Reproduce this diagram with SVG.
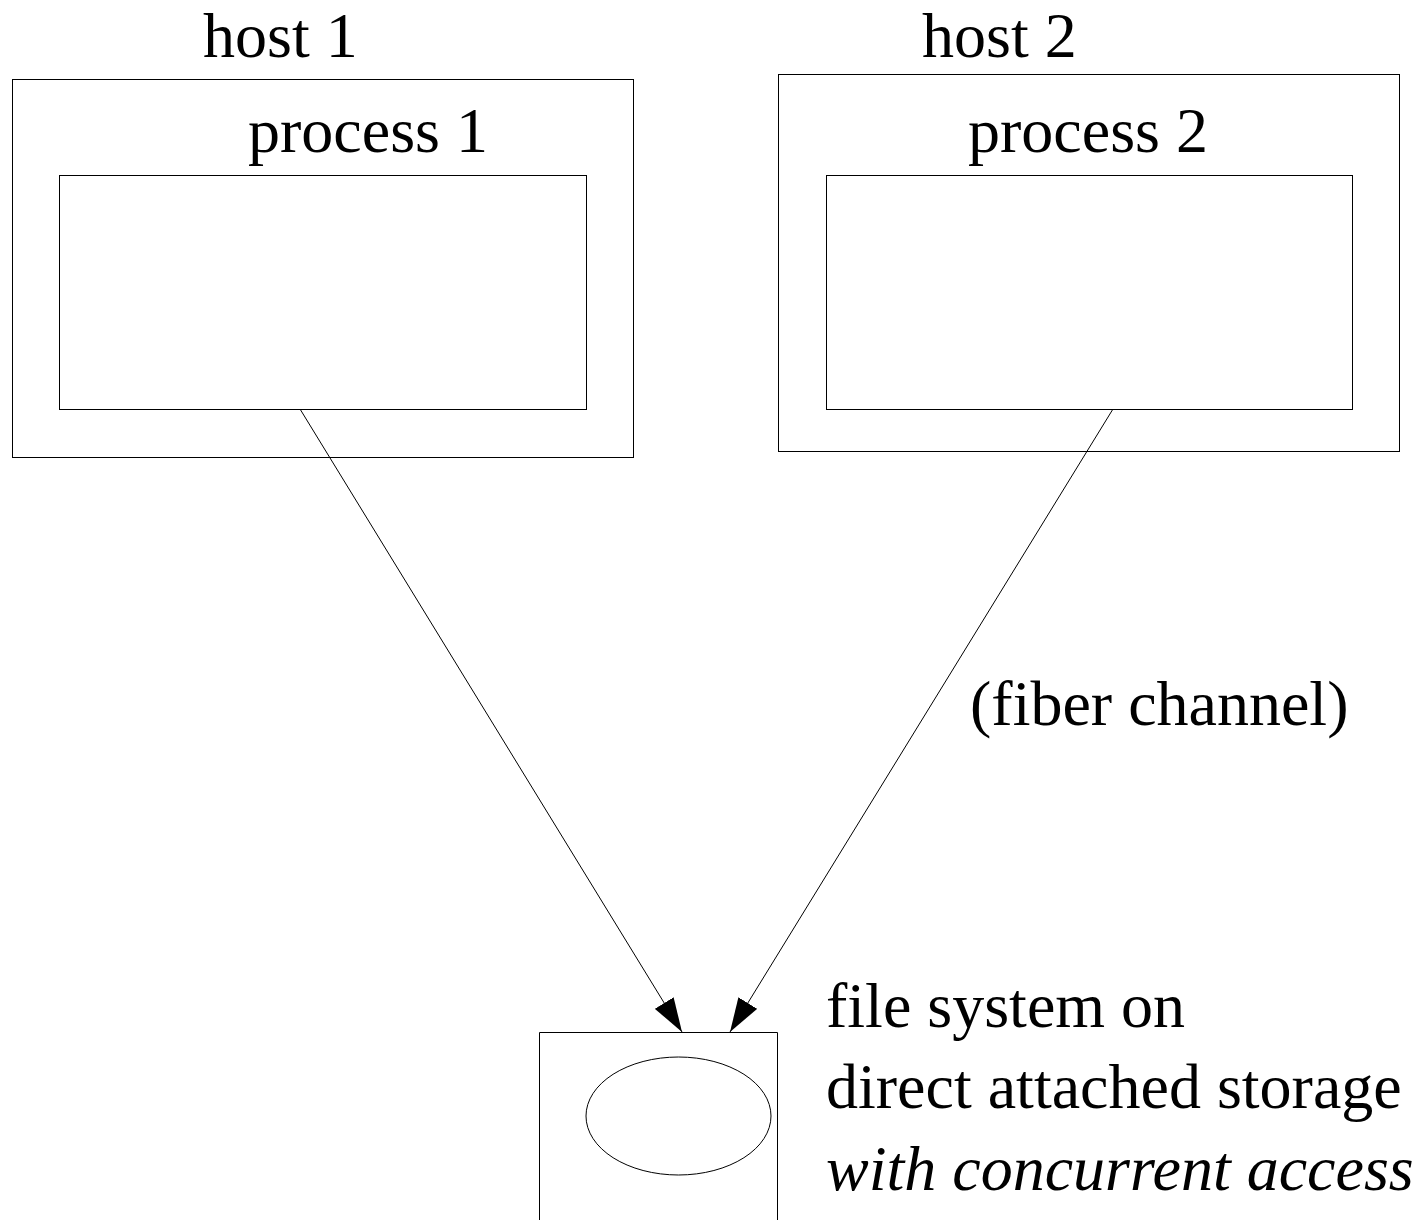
<svg xmlns="http://www.w3.org/2000/svg" width="1420" height="1220" viewBox="0 0 1420 1220">
  <style>
    .box { fill: none; stroke: #000; stroke-width: 1; }
    .lbl { font-family: "Liberation Serif", "Times New Roman", serif; font-size: 64px; fill: #000; }
    .it { font-style: italic; }
    .wire { fill: none; stroke: #000; stroke-width: 1; }
  </style>
  <defs>
    <marker id="arrow" markerUnits="userSpaceOnUse" markerWidth="34" markerHeight="22" refX="34" refY="11" orient="auto">
      <path d="M0,0 L34,11 L0,22 z" fill="#000"/>
    </marker>
  </defs>
  <rect width="1420" height="1220" fill="#fff"/>

  <g id="host1">
    <text class="lbl" x="203" y="57">host 1</text>
    <rect class="box" x="12.5" y="79.5" width="621" height="378"/>
  </g>
  <g id="process1">
    <text class="lbl" x="248" y="152">process 1</text>
    <rect class="box" x="59.5" y="175.5" width="527" height="234"/>
  </g>

  <g id="host2">
    <text class="lbl" x="922" y="57">host 2</text>
    <rect class="box" x="778.5" y="74.5" width="621" height="377"/>
  </g>
  <g id="process2">
    <text class="lbl" x="968" y="152">process 2</text>
    <rect class="box" x="826.5" y="175.5" width="526" height="234"/>
  </g>

  <g id="storage">
    <path class="box" d="M539.5,1222 V1032.5 H777.5 V1222"/>
    <ellipse class="box" cx="678.5" cy="1116" rx="92.5" ry="59"/>
    <text class="lbl" x="826" y="1027">file system on</text>
    <text class="lbl" x="826" y="1108">direct attached storage</text>
    <text class="lbl it" x="826" y="1190">with concurrent access</text>
  </g>

  <g id="connectors">
    <line class="wire" x1="300" y1="409" x2="682" y2="1032" marker-end="url(#arrow)"/>
    <line class="wire" x1="1113" y1="409" x2="730" y2="1032" marker-end="url(#arrow)"/>
    <text class="lbl" x="970" y="725">(fiber channel)</text>
  </g>
</svg>
